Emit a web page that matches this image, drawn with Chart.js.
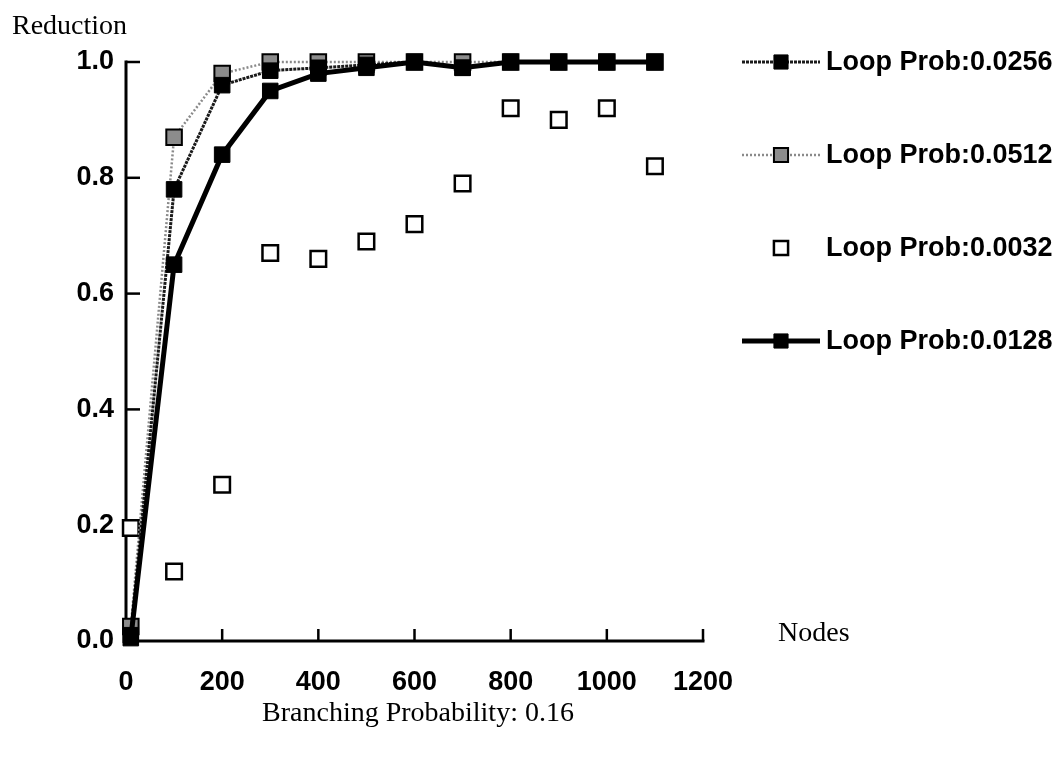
<!DOCTYPE html>
<html lang="en">
    <head>
        <meta charset="UTF-8" />
        <title>Reduction vs Nodes</title>
        <script src="https://cdn.jsdelivr.net/npm/chart.js"></script>
        <style>
            html, body { margin: 0; padding: 0; background: #fff; }
        </style>
    </head>
    <body>
        <canvas id="myChart" width="1060" height="759"></canvas>

        <script>
            // data
            const nodes = [10, 100, 200, 300, 400, 500, 600, 700, 800, 900, 1000, 1100];
            const loop0256 = [0.01, 0.78, 0.96, 0.985, 0.99, 0.995, 1.0, 0.99, 1.0, 1.0, 1.0, 1.0];
            const loop0512 = [0.025, 0.87, 0.98, 1.0, 1.0, 1.0, 1.0, 1.0, 1.0, 1.0, 1.0, 1.0];
            const loop0032 = [0.195, 0.12, 0.27, 0.67, 0.66, 0.69, 0.72, 0.79, 0.92, 0.9, 0.92, 0.82];
            const loop0128 = [0.005, 0.65, 0.84, 0.95, 0.98, 0.99, 1.0, 0.99, 1.0, 1.0, 1.0, 1.0];
            const seriesLabels = ["Loop Prob:0.0256", "Loop Prob:0.0512", "Loop Prob:0.0032", "Loop Prob:0.0128"];
            const xTickValues = [0, 200, 400, 600, 800, 1000, 1200];
            const yTickValues = [0, 0.2, 0.4, 0.6, 0.8, 1.0];

            const sansFont = '"Liberation Sans", Arial, Helvetica, sans-serif';
            const serifFont = '"Liberation Serif", "Times New Roman", serif';

            function toPoints(values) {
                return values.map((v, i) => ({ x: nodes[i], y: v }));
            }

            const datasets = [
                {
                    label: seriesLabels[0],
                    data: toPoints(loop0256),
                    showLine: true,
                    borderColor: "#1a1a1a",
                    borderWidth: 3,
                    borderDash: [3, 1],
                    pointStyle: "rect",
                    pointRadius: 11,
                    pointBackgroundColor: "#000",
                    pointBorderColor: "#000",
                    pointBorderWidth: 1,
                    order: 1,
                },
                {
                    label: seriesLabels[1],
                    data: toPoints(loop0512),
                    showLine: true,
                    borderColor: "#8a8a8a",
                    borderWidth: 2.5,
                    borderDash: [2, 2],
                    pointStyle: "rect",
                    pointRadius: 11,
                    pointBackgroundColor: "#8c8c8c",
                    pointBorderColor: "#000",
                    pointBorderWidth: 2,
                    order: 2,
                },
                {
                    label: seriesLabels[2],
                    data: toPoints(loop0032),
                    showLine: false,
                    pointStyle: "rect",
                    pointRadius: 11,
                    pointBackgroundColor: "#fff",
                    pointBorderColor: "#000",
                    pointBorderWidth: 2.5,
                    order: 3,
                },
                {
                    label: seriesLabels[3],
                    data: toPoints(loop0128),
                    showLine: true,
                    borderColor: "#000",
                    borderWidth: 5,
                    pointStyle: "rect",
                    pointRadius: 11,
                    pointBackgroundColor: "#000",
                    pointBorderColor: "#000",
                    pointBorderWidth: 1,
                    order: 0,
                },
            ];
            datasets.forEach((ds) => {
                ds.clip = false;
                ds.tension = 0;
                ds.fill = false;
            });

            // axis lines + inward tick marks
            const axesPlugin = {
                id: "axes",
                beforeDatasetsDraw(chart) {
                    const ctx = chart.ctx;
                    const x = chart.scales.x;
                    const y = chart.scales.y;
                    const left = x.getPixelForValue(0);
                    const right = x.getPixelForValue(1200);
                    const top = y.getPixelForValue(1);
                    const bottom = y.getPixelForValue(0);
                    ctx.save();
                    ctx.strokeStyle = "#000";
                    ctx.lineWidth = 3;
                    ctx.lineCap = "square";
                    ctx.beginPath();
                    ctx.moveTo(left, top);
                    ctx.lineTo(left, bottom);
                    ctx.lineTo(right, bottom);
                    ctx.stroke();
                    ctx.lineWidth = 2.5;
                    ctx.lineCap = "butt";
                    yTickValues.slice(1).forEach((v) => {
                        const py = y.getPixelForValue(v);
                        ctx.beginPath();
                        ctx.moveTo(left, py);
                        ctx.lineTo(left + 14, py);
                        ctx.stroke();
                    });
                    xTickValues.slice(1).forEach((v) => {
                        const px = x.getPixelForValue(v);
                        ctx.beginPath();
                        ctx.moveTo(px, bottom);
                        ctx.lineTo(px, bottom - 12);
                        ctx.stroke();
                    });
                    ctx.restore();
                },
            };

            // axis names and the legend on the right
            const textPlugin = {
                id: "texts",
                afterDraw(chart) {
                    const ctx = chart.ctx;
                    ctx.save();
                    ctx.fillStyle = "#000";
                    ctx.textBaseline = "middle";
                    ctx.font = "28px " + serifFont;
                    ctx.textAlign = "left";
                    ctx.fillText("Reduction", 12, 27);
                    ctx.fillText("Nodes", 778, 634);
                    ctx.textAlign = "center";
                    ctx.fillText("Branching Probability: 0.16", 418, 714);

                    ctx.font = "bold 27px " + sansFont;
                    ctx.textAlign = "left";
                    chart.data.datasets.forEach((ds, i) => {
                        const cy = 62 + i * 93;
                        if (ds.showLine) {
                            ctx.save();
                            ctx.strokeStyle = ds.borderColor;
                            ctx.lineWidth = ds.borderWidth;
                            ctx.setLineDash(ds.borderDash || []);
                            ctx.beginPath();
                            ctx.moveTo(742, cy);
                            ctx.lineTo(820, cy);
                            ctx.stroke();
                            ctx.restore();
                        }
                        ctx.save();
                        ctx.fillStyle = ds.pointBackgroundColor;
                        ctx.strokeStyle = ds.pointBorderColor;
                        ctx.lineWidth = ds.pointBorderWidth;
                        Chart.helpers.drawPoint(
                            ctx,
                            { pointStyle: "rect", radius: 10, borderWidth: ds.pointBorderWidth, rotation: 0 },
                            781,
                            cy
                        );
                        ctx.restore();
                        ctx.fillText(ds.label, 826, cy + 1);
                    });
                    ctx.restore();
                },
            };

            const config = {
                type: "scatter",
                data: { datasets: datasets },
                options: {
                    responsive: false,
                    animation: false,
                    layout: {
                        padding: { left: 0, top: 62, right: 357, bottom: 0 },
                    },
                    plugins: {
                        legend: { display: false },
                        tooltip: { enabled: false },
                    },
                    scales: {
                        x: {
                            type: "linear",
                            min: 0,
                            max: 1200,
                            afterBuildTicks: (s) => {
                                s.ticks = xTickValues.map((v) => ({ value: v }));
                            },
                            afterFit: (s) => {
                                s.height = 118;
                            },
                            grid: { display: false, drawTicks: false },
                            border: { display: false },
                            ticks: {
                                padding: 25,
                                color: "#000",
                                maxRotation: 0,
                                font: { family: sansFont, size: 27, weight: "bold" },
                                callback: (v) => String(v),
                            },
                        },
                        y: {
                            type: "linear",
                            min: 0,
                            max: 1,
                            afterBuildTicks: (s) => {
                                s.ticks = yTickValues.map((v) => ({ value: v }));
                            },
                            afterFit: (s) => {
                                s.width = 126;
                            },
                            grid: { display: false, drawTicks: false },
                            border: { display: false },
                            ticks: {
                                padding: 12,
                                color: "#000",
                                font: { family: sansFont, size: 27, weight: "bold" },
                                callback: (v) => Number(v).toFixed(1),
                            },
                        },
                    },
                },
                plugins: [axesPlugin, textPlugin],
            };

            document.addEventListener("DOMContentLoaded", function () {
                const ctx = document.getElementById("myChart").getContext("2d");
                new Chart(ctx, config);
            });
        </script>
    </body>
</html>
